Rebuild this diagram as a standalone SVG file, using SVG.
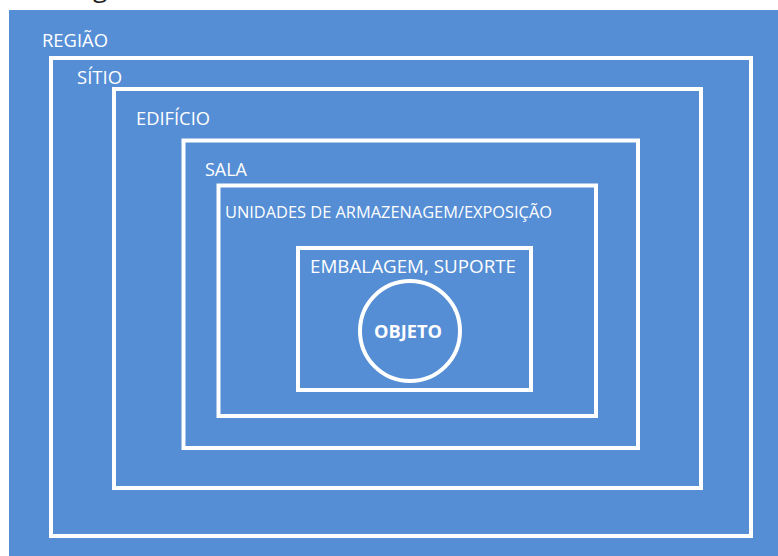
<svg xmlns="http://www.w3.org/2000/svg" width="778" height="556" viewBox="0 0 778 556">
  <style>
    .box { fill: none; stroke: #ffffff; stroke-width: 4; }
    .lbl { font-family: "Open Sans", "Liberation Sans", sans-serif; fill: #ffffff; font-size: 18px; }
    .small { font-size: 15.5px; }
    .bold { font-weight: bold; }
  </style>
  <rect x="0" y="0" width="778" height="556" fill="#ffffff"/>
  <text x="93" y="-3" font-family="Open Sans, Liberation Sans, sans-serif" font-size="26" fill="#1a1a1a">g</text>
  <g id="regiao">
    <rect x="9" y="10" width="769" height="546" fill="#558ED5"/>
    <text class="lbl" x="42" y="47" textLength="66" lengthAdjust="spacingAndGlyphs">REGIÃO</text>
  </g>
  <g id="sitio">
    <rect class="box" x="51" y="58" width="700" height="478" stroke-width="3.5"/>
    <text class="lbl" x="77" y="84" textLength="45" lengthAdjust="spacingAndGlyphs">SÍTIO</text>
  </g>
  <g id="edificio">
    <rect class="box" x="114" y="89" width="587" height="399"/>
    <text class="lbl" x="136" y="125" textLength="74" lengthAdjust="spacingAndGlyphs">EDIFÍCIO</text>
  </g>
  <g id="sala">
    <rect class="box" x="183.5" y="140.5" width="454.5" height="307.5"/>
    <text class="lbl" x="205" y="176" textLength="42" lengthAdjust="spacingAndGlyphs">SALA</text>
  </g>
  <g id="unidades">
    <rect class="box" x="218.5" y="185.5" width="377.5" height="230.5"/>
    <text class="lbl small" x="225" y="218" textLength="327" lengthAdjust="spacingAndGlyphs">UNIDADES DE ARMAZENAGEM/EXPOSIÇÃO</text>
  </g>
  <g id="embalagem">
    <rect class="box" x="298" y="248" width="233" height="142"/>
    <text class="lbl" x="310" y="273" textLength="206" lengthAdjust="spacingAndGlyphs">EMBALAGEM, SUPORTE</text>
  </g>
  <g id="objeto">
    <circle class="box" cx="410" cy="331" r="50"/>
    <text class="lbl bold" x="374" y="338" textLength="68" lengthAdjust="spacingAndGlyphs">OBJETO</text>
  </g>
  <g id="connectors"/>
</svg>
